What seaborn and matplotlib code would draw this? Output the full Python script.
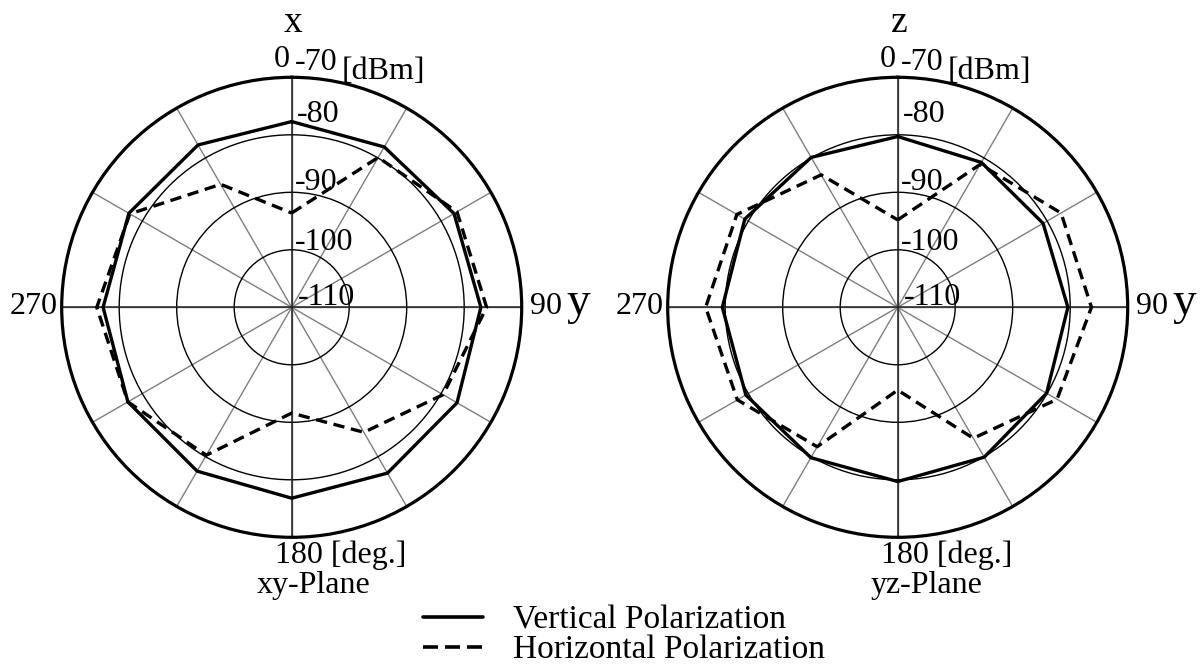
import numpy as np
import pandas as pd
import matplotlib
matplotlib.use("Agg")
import matplotlib.pyplot as plt
from matplotlib.lines import Line2D
import seaborn as sns

# ---------------- data ----------------
angles_deg = [0, 30, 60, 90, 120, 150, 180, 210, 240, 270, 300, 330]
xy_vertical = [-77.7, -77.8, -77.4, -77.1, -76.8, -76.7, -76.8, -77.1, -77.1, -77.2, -77.3, -77.4]
xy_horizontal = [-93.6, -79.9, -76.8, -76.1, -79.6, -84.9, -91.6, -80.3, -77.1, -76.1, -77.5, -85.3]
yz_vertical = [-80.3, -80.9, -80.8, -80.4, -80.1, -79.9, -79.7, -79.8, -79.5, -79.5, -79.3, -79.9]
yz_horizontal = [-94.8, -81.3, -77.2, -76.3, -78.0, -83.7, -95.6, -82.0, -77.8, -76.6, -77.7, -83.4]
ring_values = [-100, -90, -80]
ring_labels = ["-80", "-90", "-100", "-110"]
r_min, r_max = -110, -70
legend_labels = ["Vertical Polarization", "Horizontal Polarization"]

sns.set_theme(style="white")
plt.rcParams["font.family"] = ["Liberation Serif", "DejaVu Serif"]
plt.rcParams["text.color"] = "black"

W, H = 1203, 664
fig = plt.figure(figsize=(W / 100, H / 100), dpi=100)
R = 230.0
centers = [(291.7, 307.3), (897.7, 307.3)]

FS = 23


def closed_frame(vert, horiz):
    th = np.deg2rad(angles_deg + [360])
    v = list(vert) + [vert[0]]
    h = list(horiz) + [horiz[0]]
    return pd.DataFrame({
        "theta": np.concatenate([th, th]),
        "dBm": v + h,
        "pol": ["Vertical"] * len(th) + ["Horizontal"] * len(th),
    })


def ftext(cx, cy, dx, dy, s, **kw):
    fig.text((cx + dx) / W, 1 - (cy + dy) / H, s, color="black", **kw)


panels = [
    dict(vert=xy_vertical, horiz=xy_horizontal, top="x", plane="xy-Plane", plane_dx=22),
    dict(vert=yz_vertical, horiz=yz_horizontal, top="z", plane="yz-Plane", plane_dx=29),
]

for (cx, cy), p in zip(centers, panels):
    ax = fig.add_axes([(cx - R) / W, (H - cy - R) / H, 2 * R / W, 2 * R / H],
                      projection="polar")
    ax.set_theta_zero_location("N")
    ax.set_theta_direction(-1)
    ax.set_ylim(r_min, r_max)
    ax.set_thetagrids(range(0, 360, 30), labels=[])
    ax.set_rgrids(ring_values, labels=[])
    ax.xaxis.grid(True, color="#7f7f7f", lw=1.0)
    ax.yaxis.grid(True, color="black", lw=1.0)
    ax.set_facecolor("white")
    for a in [0, 90, 180, 270]:
        ax.axvline(np.deg2rad(a), color="#222222", lw=1.1, zorder=1.5)
    ax.spines["polar"].set_linewidth(2.3)
    ax.spines["polar"].set_color("black")

    df = closed_frame(p["vert"], p["horiz"])
    sns.lineplot(data=df, x="theta", y="dBm", style="pol",
                 dashes={"Vertical": "", "Horizontal": (3.4, 2.0)},
                 style_order=["Vertical", "Horizontal"],
                 color="black", linewidth=2.4, sort=False, estimator=None,
                 legend=False, ax=ax, zorder=3)
    ax.set_xlabel("")
    ax.set_ylabel("")

    # texts
    ftext(cx, cy, 1.3, -275, p["top"], fontsize=27, ha="center", va="baseline")
    ftext(cx, cy, -17.7, -240, "0", fontsize=FS, ha="left", va="baseline")
    ftext(cx, cy, 3.5, -237, "-70", fontsize=FS, ha="left", va="baseline")
    ftext(cx, cy, 50, -228, "[dBm]", fontsize=FS, ha="left", va="baseline")
    for lab, dx, dy in zip(ring_labels, [5, 3, 3, 6], [-185, -117, -57, -2]):
        ftext(cx, cy, dx, dy, lab, fontsize=FS, ha="left", va="baseline")
    ftext(cx, cy, -233.7, 7, "270", fontsize=FS, ha="right", va="baseline")
    ftext(cx, cy, 238.3, 7, "90", fontsize=FS, ha="left", va="baseline")
    ftext(cx, cy, 274.5, 7, "y", fontsize=34, ha="left", va="baseline")
    ftext(cx, cy, -16.7, 256, "180 [deg.]", fontsize=FS, ha="left", va="baseline")
    ftext(cx, cy, p["plane_dx"], 286, p["plane"], fontsize=FS, ha="center", va="baseline")

handles = [Line2D([], [], color="black", lw=2.6),
           Line2D([], [], color="black", lw=2.6, dashes=(4.15, 1.95))]
leg = fig.legend(handles, legend_labels, loc="upper left",
                 bbox_to_anchor=(423 / W, 1 - 605 / H), frameon=False,
                 fontsize=24, handlelength=1.8, handletextpad=0.9,
                 labelspacing=-0.02, borderpad=0, borderaxespad=0)
for t in leg.get_texts():
    t.set_color("black")

fig.savefig("out.png", dpi=100)
